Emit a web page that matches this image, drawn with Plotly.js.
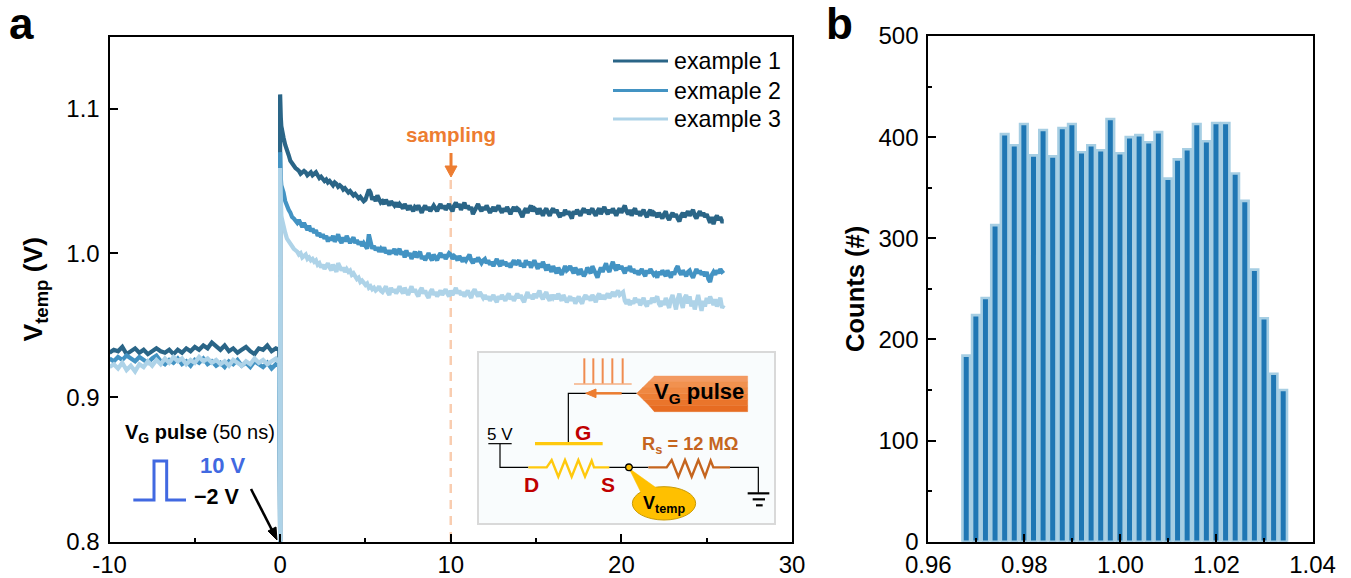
<!DOCTYPE html>
<html><head><meta charset="utf-8">
<script src="https://cdn.plot.ly/plotly-3.0.1.min.js"></script>
<style>html,body{margin:0;padding:0;background:#fff;overflow:hidden}#c{width:1351px;height:578px}</style>
</head><body><div id="c"></div>
<script>
const seriesNames = ['example 1','exmaple 2','example 3'];
const seriesColors = ['#2a6587','#4393c3','#aed3e8'];
const tPre = [-10,-9.75,-9.5,-9.25,-9,-8.75,-8.5,-8.25,-8,-7.75,-7.5,-7.25,-7,-6.75,-6.5,-6.25,-6,-5.75,-5.5,-5.25,-5,-4.75,-4.5,-4.25,-4,-3.75,-3.5,-3.25,-3,-2.75,-2.5,-2.25,-2,-1.75,-1.5,-1.25,-1,-0.75,-0.5,-0.25,-0.05];
const tDip = [0];
const tPost = [0,0.02,0.04,0.07,0.1,0.15,0.2,0.3,0.4,0.5,0.6,0.7,0.8,0.9,
1,1.1,1.2,1.3,1.4,1.5,1.6,1.7,1.8,1.9,2,2.1,2.2,2.3,2.4,2.5,2.6,2.7,2.8,2.9,
3,3.1,3.2,3.3,3.4,3.5,3.6,3.7,3.8,3.9,4,4.1,4.2,4.3,4.4,4.5,4.6,4.7,4.8,4.9,
5,5.1,5.2,5.3,5.4,5.5,5.6,5.7,5.8,5.9,6,6.1,6.2,6.3,6.4,6.5,6.6,6.7,6.8,6.9,
7,7.1,7.2,7.3,7.4,7.5,7.6,7.7,7.8,7.9,8,8.1,8.2,8.3,8.4,8.5,8.6,8.7,8.8,8.9,
9,9.1,9.2,9.3,9.4,9.5,9.6,9.7,9.8,9.9,10,10.1,10.2,10.3,10.4,10.5,10.6,10.7,10.8,10.9,
11,11.1,11.2,11.3,11.4,11.5,11.6,11.7,11.8,11.9,12,12.1,12.2,12.3,12.4,12.5,12.6,12.7,12.8,12.9,
13,13.1,13.2,13.3,13.4,13.5,13.6,13.7,13.8,13.9,14,14.1,14.2,14.3,14.4,14.5,14.6,14.7,14.8,14.9,
15,15.1,15.2,15.3,15.4,15.5,15.6,15.7,15.8,15.9,16,16.1,16.2,16.3,16.4,16.5,16.6,16.7,16.8,16.9,
17,17.1,17.2,17.3,17.4,17.5,17.6,17.7,17.8,17.9,18,18.1,18.2,18.3,18.4,18.5,18.6,18.7,18.8,18.9,
19,19.1,19.2,19.3,19.4,19.5,19.6,19.7,19.8,19.9,20,20.1,20.2,20.3,20.4,20.5,20.6,20.7,20.8,20.9,
21,21.1,21.2,21.3,21.4,21.5,21.6,21.7,21.8,21.9,22,22.1,22.2,22.3,22.4,22.5,22.6,22.7,22.8,22.9,
23,23.1,23.2,23.3,23.4,23.5,23.6,23.7,23.8,23.9,24,24.1,24.2,24.3,24.4,24.5,24.6,24.7,24.8,24.9,
25,25.1,25.2,25.3,25.4,25.5,25.6,25.7,25.8,25.9,26];
// in mV
const ex1Pre = [931,933,932,935,930,932,934,931,933,930,932,934,932,931,933,930,933,931,934,932,935,933,936,934,938,935,933,936,932,934,931,933,935,932,930,934,933,936,932,934,933];
const ex2Pre = [927,925,928,926,929,927,925,928,926,924,927,929,925,923,926,924,927,923,925,922,926,924,927,923,925,922,924,921,925,923,926,922,924,921,925,923,921,924,920,923,922];
const ex3Pre = [921,923,920,924,919,922,918,923,921,925,922,926,923,927,924,928,925,927,923,926,924,928,925,927,924,926,923,925,922,926,924,922,925,923,927,924,926,923,925,927,924];
const dipValue = [800];
const ex1Post = [1110,1102,1094,1088,1085,1083,1080,1075,1070,1068,1064,1062,1060,1059,
1058,1057,1055,1056,1057,1056,1054,1055,1056,1054,1055,1056,1054,1052,1053,1051,1050,1051,1049,1050,
1048,1047,1049,1048,1046,1047,1046,1044,1045,1043,1042,1043,1041,1040,1041,1039,1038,1039,1037,1036,
1037,1041,1044,1042,1037,1039,1036,1040,1038,1035,1036,1034,1037,1035,1033,1036,1034,1033,1035,1032,
1034,1032,1031,1034,1032,1030,1033,1031,1029,1032,1031,1033,1030,1028,1031,1033,1030,1032,1029,1031,
1033,1031,1029,1032,1034,1031,1033,1030,1032,1034,1031,1029,1033,1035,1032,1034,1030,1032,1035,1031,
1033,1030,1032,1027,1029,1032,1034,1031,1029,1032,1030,1033,1031,1028,1030,1032,1029,1031,1033,1030,
1028,1031,1029,1032,1030,1027,1030,1032,1029,1031,1030,1027,1025,1029,1031,1028,1030,1033,1029,1031,
1030,1027,1031,1029,1026,1029,1031,1028,1026,1029,1031,1028,1030,1027,1025,1028,1026,1030,1027,1029,
1026,1024,1029,1027,1030,1028,1026,1029,1031,1028,1030,1027,1029,1031,1028,1026,1029,1031,1027,1030,
1032,1029,1027,1030,1028,1031,1029,1026,1029,1031,1028,1030,1033,1029,1027,1030,1026,1029,1031,1027,
1029,1026,1028,1030,1027,1025,1028,1030,1026,1028,1027,1025,1028,1026,1024,1027,1029,1025,1023,1026,
1028,1025,1027,1024,1022,1026,1028,1025,1027,1029,1026,1028,1030,1026,1024,1027,1029,1026,1028,1025,
1027,1024,1021,1025,1020,1024,1026,1023,1025,1022,1022];
const ex2Post = [1070,1060,1052,1047,1045,1044,1042,1036,1032,1030,1028,1025,1024,1022,
1021,1023,1020,1018,1021,1018,1016,1019,1015,1017,1014,1016,1012,1014,1011,1013,1010,1012,1008,1011,
1009,1012,1008,1010,1013,1009,1007,1011,1008,1012,1010,1007,1009,1011,1007,1009,1006,1008,1005,1007,
1005,1003,1013,1006,1003,1005,1002,1004,1001,1003,1001,1004,1000,1002,999,1002,1000,1003,999,1001,
1003,999,1001,997,1002,998,1000,996,999,1001,997,999,1001,996,998,995,998,1000,997,995,
999,997,995,998,1000,997,999,996,998,1000,999,996,998,997,995,998,996,994,997,995,
997,999,995,993,996,994,997,995,993,995,996,993,995,992,994,991,994,996,993,991,
995,992,994,991,993,990,993,995,992,994,995,991,993,990,995,992,994,990,992,995,
992,989,993,990,994,991,988,992,989,987,991,988,986,990,988,985,988,991,988,989,
991,988,986,990,987,985,989,987,984,986,990,988,986,991,988,985,983,987,990,987,
990,993,989,987,991,994,990,988,992,989,991,989,986,990,988,991,987,989,986,988,
985,987,989,986,984,988,986,989,987,985,986,983,987,985,988,986,984,988,985,983,
987,985,989,991,987,985,988,986,984,987,988,985,983,986,989,986,988,985,987,984,
987,982,980,985,987,985,988,986,989,987,988];
const ex3Post = [1059,1040,1030,1026,1024,1021,1018,1014,1010,1008,1006,1004,1003,1002,
1001,999,1000,997,998,999,996,997,995,996,994,995,992,993,990,992,989,991,993,990,
988,992,990,987,993,991,988,990,987,989,987,988,985,986,984,982,983,980,981,979,
978,979,976,977,975,976,974,975,977,974,973,975,977,973,971,976,973,975,972,974,
977,974,972,976,973,971,974,977,973,975,972,970,974,976,972,974,971,969,973,975,
971,973,970,972,974,971,973,975,972,970,974,971,973,976,972,974,971,973,970,972,
974,971,969,973,975,972,970,973,971,969,971,968,970,967,969,971,968,966,970,968,
971,969,967,970,972,968,970,967,969,972,969,971,968,966,970,973,969,971,968,972,
969,972,974,970,968,971,973,969,967,971,969,971,968,972,970,967,971,969,966,968,
970,967,969,965,968,970,967,965,969,971,968,970,967,971,969,966,970,972,968,971,
968,970,972,969,971,973,970,972,974,971,972,973,967,965,968,964,967,965,969,966,
968,964,966,969,965,963,967,965,969,966,968,970,965,963,967,964,969,966,962,968,
971,966,961,968,972,966,962,969,971,965,970,963,967,961,968,971,965,960,967,963,
969,965,970,967,964,968,963,966,969,962,964];
const binCenters = [0.9679,0.9699,0.9719,0.9739,0.9759,0.9779,0.9799,0.9819,0.9839,0.9859,0.9879,0.9899,0.9919,0.9939,0.9959,0.9979,0.9999,1.0019,1.0039,1.0059,1.0079,1.0099,1.0119,1.0139,1.0159,1.0179,1.0199,1.0219,1.0239,1.0259,1.0279,1.0299,1.0319,1.0339];
const counts = [184,224,241,313,403,392,413,382,407,381,409,413,385,392,387,418,384,400,402,395,405,359,378,388,413,396,414,414,364,337,269,221,166,150];
const xTicksA = [-10,0,10,20,30];
const xTickTextA = ['-10','0','10','20','30'];
const xMinorA = [-5,5,15,25];
const yTicksA = [0.8,0.9,1.0,1.1];
const yTickTextA = ['0.8','0.9','1.0','1.1'];
const xTicksB = [0.96,0.98,1.00,1.02,1.04];
const xTickTextB = ['0.96','0.98','1.00','1.02','1.04'];
const yTicksB = [0,100,200,300,400,500];

const W=1351,H=578;
const FONT='"Liberation Sans", Arial, sans-serif';
const px=x=>x/W, py=y=>1-y/H;
const mkPath=(pts,close)=>pts.map((p,i)=>(i?'L':'M')+px(p[0]).toFixed(5)+','+py(p[1]).toFixed(5)).join(' ')+(close?' Z':'');
const shape=(pts,color,width,fill)=>({type:'path',xref:'paper',yref:'paper',path:mkPath(pts,!!fill),line:{color:color,width:width},fillcolor:fill||'rgba(0,0,0,0)',layer:'above'});
const I=p=>[470+p[0]/3,340+p[1]/3];
const ip=(pts,color,width,fill)=>shape(pts.map(I),color,width,fill);
const L=p=>[p[0]/3,300+p[1]/3];
const txt=(x,y,text,size,color,extra)=>Object.assign({xref:'paper',yref:'paper',x:px(x),y:py(y),text:text,showarrow:false,xanchor:'center',yanchor:'middle',font:{family:FONT,size:size,color:color||'#000'}},extra||{});
const itx=(p,text,size,color)=>{const q=I(p);return txt(q[0],q[1],text,size,color);};

const cat=(a,b,c)=>a.concat(b,c);
const tAll=cat(tPre,tDip,tPost);
const mk=(pre,post,i)=>({type:'scatter',mode:'lines',x:tAll,y:cat(pre,dipValue,post).map(v=>v/1000),name:seriesNames[i],line:{color:seriesColors[i],width:4.2},showlegend:false,xaxis:'x',yaxis:'y'});
const traces=[mk(ex1Pre,ex1Post,0),mk(ex2Pre,ex2Post,1),mk(ex3Pre,ex3Post,2),
{type:'bar',x:binCenters,y:counts,width:0.00158,marker:{color:'#1f77b4',line:{color:'#a6cee3',width:2.6}},showlegend:false,xaxis:'x2',yaxis:'y2'}];

const axBase={showgrid:false,zeroline:false,showline:true,linecolor:'#000',linewidth:2,mirror:true,ticks:'inside',tickcolor:'#000',tickwidth:2,ticklen:8,tickfont:{family:FONT,size:24,color:'#000'},layer:'above traces'};
const minor=(vals)=>({ticks:'inside',ticklen:4,tickwidth:2,tickcolor:'#000',tickmode:'array',tickvals:vals,showgrid:false});

const ckt=[];
ckt.push({type:'rect',xref:'paper',yref:'paper',x0:px(478),x1:px(775),y0:py(352),y1:py(524),line:{color:'#d9d9d9',width:2},fillcolor:'#f9fcfd',layer:'above'});
[343,370,398,427,458].forEach(x=>ckt.push(ip([[x,55],[x,132]],'#f08c50',2)));
ckt.push(ip([[312,132],[485,132]],'#f4b183',1.3));
ckt.push(ip([[295,310],[295,160],[500,160]],'#000',1.2));
ckt.push(ip([[375,160],[455,160]],'#ed7d31',2.5));
ckt.push(ip([[347,160],[378,147],[378,173]],'#ed7d31',1,'#ed7d31'));
// tag with a top-to-bottom shade
const tagTop=108,tagBottom=215,tagMid=160,tagBands=['#f39a62','#f1914f','#ef8842','#ed7f36','#ea752b','#e76c22'];
const tagLeft=z=>Math.min(553,500+53*Math.abs(z-tagMid)/52);
tagBands.forEach((c,i)=>{const a=tagTop+(tagBottom-tagTop)*i/6,b=tagTop+(tagBottom-tagTop)*(i+1)/6;
  const poly=[[tagLeft(a),a],[833,a],[833,b],[tagLeft(b),b]];
  if(a<tagMid&&b>tagMid) poly.push([500,tagMid]);
  ckt.push(ip(poly,c,0.4,c));});
ckt.push(ip([[195,311],[398,311]],'#ffc90e',3.2));
ckt.push(ip([[55,311],[125,311]],'#000',1.2));
ckt.push(ip([[90,311],[90,382],[175,382]],'#000',1.2));
ckt.push(ip([[175,382],[230,382],[245,360],[265,410],[285,360],[305,410],[325,360],[345,410],[365,362],[372,382],[418,382]],'#ffc90e',2.4));
ckt.push(ip([[418,382],[535,382]],'#000',1.2));
ckt.push(ip([[535,382],[590,382],[605,360],[625,410],[645,360],[665,410],[685,360],[705,410],[722,362],[730,382],[780,382]],'#c5651f',2.4));
ckt.push(ip([[780,382],[865,382],[865,458]],'#000',1.2));
ckt.push(ip([[833,460],[898,460]],'#000',2.2));
ckt.push(ip([[848,478],[885,478]],'#000',2.2));
ckt.push(ip([[858,496],[878,496]],'#000',2.2));
ckt.push({type:'circle',xref:'paper',yref:'paper',x0:px(470+487/3),x1:px(470+677/3),y0:py(340+540/3),y1:py(340+440/3),line:{color:'#c99a06',width:1},fillcolor:'#ffc000',layer:'above'});
ckt.push(ip([[477,385],[515,462],[565,448]],'#ffc000',0.5,'#ffc000'));
ckt.push({type:'circle',xref:'paper',yref:'paper',x0:px(470+467/3),x1:px(470+487/3),y0:py(340+392/3),y1:py(340+372/3),line:{color:'#000',width:1.3},fillcolor:'#ffc000',layer:'above'});

const legendY=[61,90.5,119];
const legendShapes=seriesNames.map((n,i)=>shape([[613,legendY[i]],[668,legendY[i]]],seriesColors[i],3));
const legendTexts=seriesNames.map((n,i)=>txt(672,legendY[i],n,23.2,'#000',{xanchor:'left'}));

const shapes=[
 {type:'line',xref:'x',yref:'paper',x0:10,x1:10,y0:py(541),y1:py(178),line:{color:'#f9cdb0',width:2.5,dash:'9px,7px'},layer:'below'},
 shape([[451,153],[451,168]],'#ed7d31',3),
 shape([[451,177],[445,166],[457,166]],'#ed7d31',1,'#ed7d31'),
 shape([[400,600],[462,600],[462,483],[500,483],[500,600],[558,600]].map(L),'#4169e1',3),
 shape([[251,489],[274,534]],'#000',2.6),
 shape([[277,540],[268,531],[276,527]],'#000',1,'#000')
].concat(legendShapes,ckt);

const annotations=[
 txt(22,23,'<b>a</b>',44),
 txt(839.5,23,'<b>b</b>',44),
 txt(451,134,'<b>sampling</b>',20.5,'#ed7d31'),
 txt(200,433,'<b>V<sub>G</sub> pulse</b> (50 ns)',20),
 txt(223,465,'<b>10 V</b>',22,'#4169e1'),
 txt(217,497,'<b>−2 V</b>',21.5),
 itx([687,160],'<b>V<sub>G</sub> pulse</b>',22),
 itx([338,276],'<b>G</b>',21,'#c00000'),
 itx([183,433],'<b>D</b>',21,'#c00000'),
 itx([414,433],'<b>S</b>',21,'#c00000'),
 itx([90,284],'5 V',17),
 itx([660,316],'<b>R<sub>s</sub> = 12 MΩ</b>',18.3,'#c5651f'),
 itx([581,492],'<b>V<sub>temp</sub></b>',18)
].concat(legendTexts);

const layout={width:W,height:H,margin:{l:0,r:0,t:0,b:0},paper_bgcolor:'#fff',plot_bgcolor:'#fff',font:{family:FONT,color:'#000'},
 showlegend:false,
 xaxis:Object.assign({},axBase,{domain:[px(109.5),px(792)],range:[-10,30],tickmode:'array',tickvals:xTicksA,ticktext:xTickTextA,minor:minor(xMinorA),anchor:'y'}),
 yaxis:Object.assign({},axBase,{domain:[py(541.7),py(36.7)],range:[0.8,1.15],tickmode:'array',tickvals:yTicksA,ticktext:yTickTextA,anchor:'x',ticklabelstandoff:3,
   title:{text:'<b>V<sub>temp</sub> (V)</b>',font:{family:FONT,size:26.5,color:'#000'},standoff:16}}),
 xaxis2:Object.assign({},axBase,{domain:[px(928.3),px(1312.5)],range:[0.96,1.04],tickmode:'array',tickvals:xTicksB,ticktext:xTickTextB,minor:minor([0.97,0.99,1.01,1.03]),anchor:'y2'}),
 yaxis2:Object.assign({},axBase,{domain:[py(541.7),py(36)],range:[0,500],tickmode:'array',tickvals:yTicksB,minor:minor([50,150,250,350,450]),anchor:'x2',ticklabelstandoff:3,
   title:{text:'<b>Counts (#)</b>\u00a0\u00a0',font:{family:FONT,size:25.5,color:'#000'},standoff:7}}),
 shapes:shapes,annotations:annotations};
Plotly.newPlot('c',traces,layout,{displayModeBar:false,staticPlot:true});
</script></body></html>
